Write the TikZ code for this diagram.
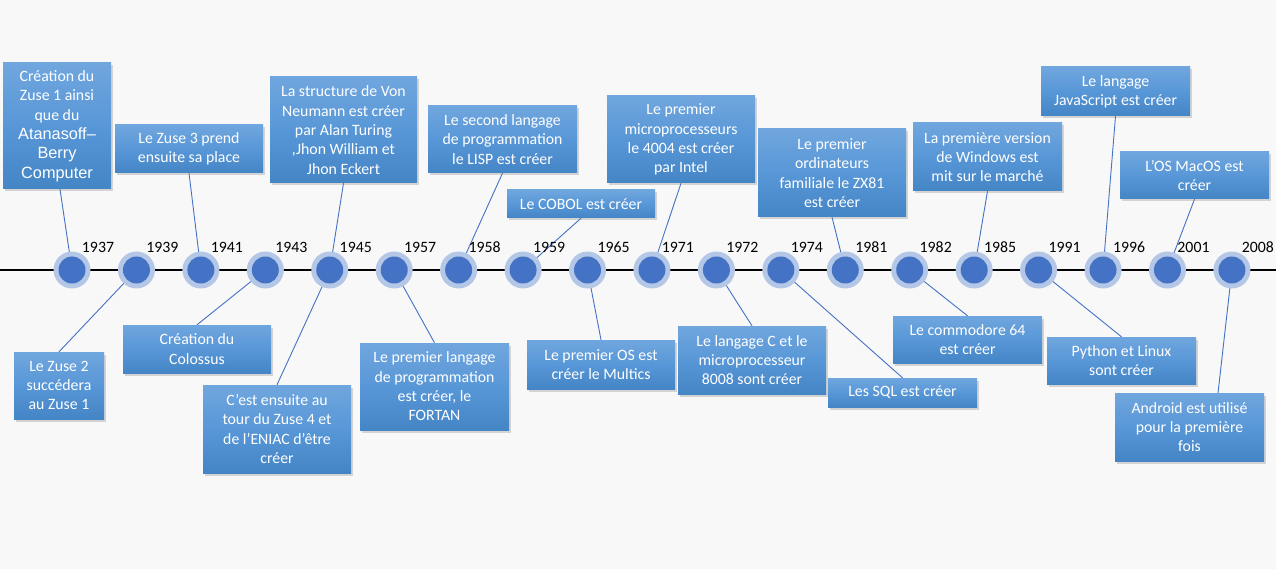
\documentclass[tikz,border=0pt]{standalone}
\usepackage{fontspec}
\setmainfont{Carlito}
\newfontfamily\arialf{Liberation Sans}
\usetikzlibrary{shadows,calc}
\pgfdeclarelayer{lines}
\pgfsetlayers{lines,main}
\definecolor{bgc}{RGB}{248,248,248}
\definecolor{boxtop}{RGB}{112,166,222}
\definecolor{boxmid}{RGB}{88,151,215}
\definecolor{boxbot}{RGB}{68,133,198}
\definecolor{dotc}{RGB}{68,114,196}
\definecolor{ringc}{RGB}{180,199,231}
\definecolor{linec}{RGB}{68,114,196}
\tikzset{
 evbox/.style={rectangle, top color=boxtop, bottom color=boxbot, middle color=boxmid, text=white, align=center, inner sep=0pt, font=\fontsize{15.8}{19.3}\selectfont, drop shadow={opacity=0.3, shadow xshift=1.5pt, shadow yshift=-2.5pt}},
 ring/.style={circle, fill=ringc, minimum size=37pt, inner sep=0pt},
 dot/.style={circle, fill=dotc, minimum size=27pt, inner sep=0pt},
 yearlab/.style={anchor=base, font=\fontsize{15.8}{19}\selectfont, text=black, inner sep=0pt},
 conn/.style={draw=linec, line width=0.9pt}
}
\newcommand{\arialtxt}[1]{{\arialf\fontsize{16.3}{19.3}\selectfont #1}}
\begin{document}
\begin{tikzpicture}[x=1pt,y=-1pt]
\useasboundingbox (0,0) rectangle (1276,569);
\begin{pgfonlayer}{lines}
\fill[bgc] (0,0) rectangle (1276,569);
\draw[black, line width=1.2pt] (0,270) -- (1276,270);
\end{pgfonlayer}
\foreach \i/\yr in {0/1937,1/1939,2/1941,3/1943,4/1945,5/1957,6/1958,7/1959,8/1965,9/1971,10/1972,11/1974,12/1981,13/1982,14/1985,15/1991,16/1996,17/2001,18/2008}{
  \node[ring] (r\i) at ({72+64.44*\i},270) {};
  \node[dot] (c\i) at (r\i.center) {};
  \node[yearlab] (y\i) at ({72+64.44*\i+26},252.5) {\yr};
}
% top boxes
\node[evbox, minimum width=108pt, minimum height=126pt] (b1) at (57,126) {Création du\\Zuse 1 ainsi\\que du\\\arialtxt{Atanasoff–}\\\arialtxt{Berry}\\\arialtxt{Computer}};
\node[evbox, minimum width=148pt, minimum height=48pt] (b2) at (189,149) {Le Zuse 3 prend\\ensuite sa place};
\node[evbox, minimum width=147pt, minimum height=106pt] (b3) at (343.5,130) {La structure de Von\\Neumann est créer\\par Alan Turing\\,Jhon William et\\Jhon Eckert};
\node[evbox, minimum width=149pt, minimum height=67pt] (b4) at (502.5,139.5) {Le second langage\\de programmation\\le LISP est créer};
\node[evbox, minimum width=148pt, minimum height=28pt] (b5) at (581,204) {Le COBOL est créer};
\node[evbox, minimum width=148pt, minimum height=87pt] (b6) at (681,139.5) {Le premier\\microprocesseurs\\le 4004 est créer\\par Intel};
\node[evbox, minimum width=148pt, minimum height=88pt] (b7) at (832,173) {Le premier\\ordinateurs\\familiale le ZX81\\est créer};
\node[evbox, minimum width=149pt, minimum height=68pt] (b8) at (987.5,157) {La première version\\de Windows est\\mit sur le marché};
\node[evbox, minimum width=149pt, minimum height=49pt] (b9) at (1115.5,91.5) {Le langage\\JavaScript est créer};
\node[evbox, minimum width=149pt, minimum height=47pt] (b10) at (1194.5,175.5) {L’OS MacOS est\\créer};
% bottom boxes
\node[evbox, minimum width=90pt, minimum height=67pt] (b11) at (59,385.5) {Le Zuse 2\\succédera\\au Zuse 1};
\node[evbox, minimum width=148pt, minimum height=48pt] (b12) at (197,349) {Création du\\Colossus};
\node[evbox, minimum width=148pt, minimum height=88pt] (b13) at (277,429) {C’est ensuite au\\tour du Zuse 4 et\\de l’ENIAC d’être\\créer};
\node[evbox, minimum width=149pt, minimum height=87pt] (b14) at (434.5,386.5) {Le premier langage\\de programmation\\est créer, le\\FORTAN};
\node[evbox, minimum width=148pt, minimum height=49pt] (b15) at (601,364.5) {Le premier OS est\\créer le Multics};
\node[evbox, minimum width=148pt, minimum height=68pt] (b16) at (752,360) {Le langage C et le\\microprocesseur\\8008 sont créer};
\node[evbox, minimum width=149pt, minimum height=29pt] (b17) at (902.5,392.5) {Les SQL est créer};
\node[evbox, minimum width=149pt, minimum height=47pt] (b18) at (967.5,339.5) {Le commodore 64\\est créer};
\node[evbox, minimum width=149pt, minimum height=47pt] (b19) at (1121.5,360.5) {Python et Linux\\sont créer};
\node[evbox, minimum width=149pt, minimum height=68pt] (b20) at (1189.5,427) {Android est utilisé\\pour la première\\fois};
\coordinate (a1) at ($(b1.south)+(3,0)$);
\coordinate (a20) at (1218,393);
\begin{pgfonlayer}{lines}
\draw[conn] (a1) -- (c0.center);
\draw[conn] (b2.south) -- (c2.center);
\draw[conn] (b3.south) -- (c4.center);
\draw[conn] (b4.south) -- (c6.center);
\draw[conn] (b5.south) -- (c7.center);
\draw[conn] (b6.south) -- (c9.center);
\draw[conn] (b7.south) -- (c12.center);
\draw[conn] (b8.south) -- (c14.center);
\draw[conn] (b9.south) -- (c16.center);
\draw[conn] (b10.south) -- (c17.center);
\draw[conn] (b11.north) -- (c1.center);
\draw[conn] (b12.north) -- (c3.center);
\draw[conn] (b13.north) -- (c4.center);
\draw[conn] (b14.north) -- (c5.center);
\draw[conn] (b15.north) -- (c8.center);
\draw[conn] (b16.north) -- (c10.center);
\draw[conn] (b17.north) -- (c11.center);
\draw[conn] (b18.north) -- (c13.center);
\draw[conn] (b19.north) -- (c15.center);
\draw[conn] (a20) -- (c18.center);
\end{pgfonlayer}
\end{tikzpicture}
\end{document}
